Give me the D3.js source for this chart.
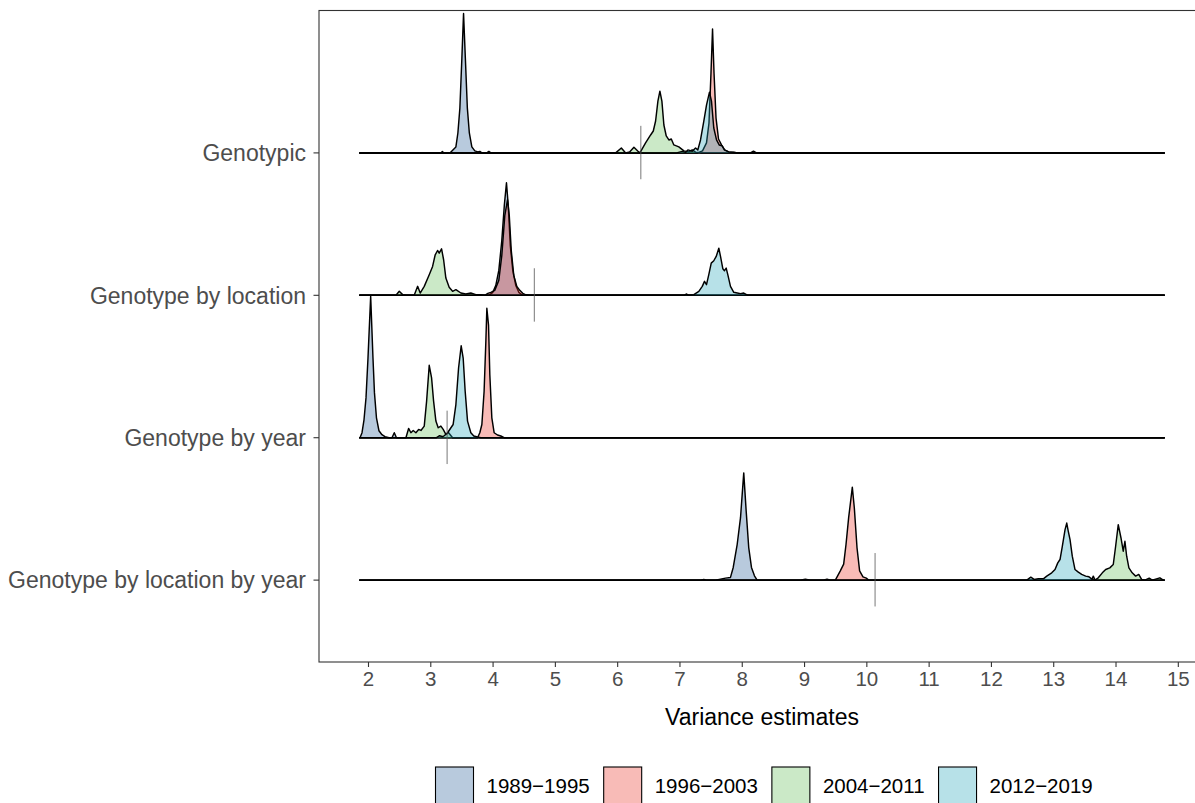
<!DOCTYPE html>
<html>
<head>
<meta charset="utf-8">
<script src="https://cdn.jsdelivr.net/npm/d3@7"></script>
<style>
  html, body { margin: 0; padding: 0; background: #ffffff; }
  svg { display: block; font-family: "Liberation Sans", Arial, Helvetica, sans-serif; }
</style>
</head>
<body>
<svg id="chart" width="1195" height="803"></svg>
<script>
// ---------------- DATA ----------------
// Rows (top to bottom)
const categories = ["Genotypic", "Genotype by location", "Genotype by year", "Genotype by location by year"];
// Periods (legend order / drawing order)
const periods = ["1989\u22121995", "1996\u22122003", "2004\u22122011", "2012\u22122019"];
const periodColors = ["#265f98", "#eb3123", "#62bd56", "#23a4b8"];
const xTicks = [2, 3, 4, 5, 6, 7, 8, 9, 10, 11, 12, 13, 14, 15];
// x range covered by every ridge (min / max of all estimates)
const densityRange = [1.86, 14.79];
// short vertical reference marks, one per row (same order as categories)
const markerValues = [6.38, 4.67, 3.27, 10.14];

// density curves: [variance estimate, relative density]
const genotypic_1989 = [[3.170,0],[3.194,0.015],[3.218,0],[3.315,0],[3.347,0.02],[3.411,0.06],[3.443,0.20],[3.475,0.45],[3.507,0.95],[3.534,1.40],[3.563,0.95],[3.595,0.45],[3.627,0.20],[3.667,0.06],[3.715,0.02],[3.763,0.01],[3.795,0.015],[3.828,0],[3.908,0],[3.940,0.015],[3.972,0]];
const genotypic_1996 = [[7.290,0],[7.370,0.02],[7.434,0.10],[7.474,0.30],[7.506,0.80],[7.531,1.245],[7.555,0.80],[7.587,0.35],[7.627,0.14],[7.675,0.08],[7.723,0.03],[7.787,0.01],[7.867,0.005],[7.947,0],[8.140,0],[8.188,0.018],[8.236,0]];
const genotypic_2004 = [[5.976,0],[6.067,0.05],[6.136,0],[6.200,0.01],[6.269,0.057],[6.330,0.02],[6.365,0],[6.456,0.10],[6.537,0.18],[6.580,0.22],[6.617,0.32],[6.654,0.52],[6.686,0.62],[6.718,0.52],[6.750,0.28],[6.788,0.17],[6.830,0.13],[6.869,0.14],[6.910,0.08],[6.990,0.06],[7.071,0.02],[7.151,0.01],[7.205,0.03],[7.258,0.007],[7.338,0]];
const genotypic_2012 = [[6.954,0],[7.045,0.015],[7.098,0.005],[7.135,0.03],[7.205,0.017],[7.258,0.05],[7.295,0.03],[7.338,0.13],[7.391,0.32],[7.434,0.48],[7.482,0.61],[7.514,0.52],[7.551,0.25],[7.595,0.13],[7.638,0.08],[7.686,0.07],[7.723,0.03],[7.792,0.01],[7.872,0.007],[7.931,0]];

const byLocation_1989 = [[3.940,0],[4.004,0.03],[4.052,0.10],[4.100,0.25],[4.148,0.55],[4.188,0.90],[4.223,1.13],[4.252,0.90],[4.284,0.50],[4.324,0.25],[4.372,0.10],[4.421,0.03],[4.485,0]];
const byLocation_1996 = [[3.876,0],[3.924,0.02],[3.972,0.03],[4.036,0.05],[4.100,0.15],[4.148,0.40],[4.196,0.80],[4.240,0.96],[4.268,0.80],[4.300,0.45],[4.340,0.20],[4.389,0.09],[4.437,0.05],[4.485,0.02],[4.533,0.005],[4.613,0]];
const byLocation_2004 = [[2.449,0],[2.502,0.04],[2.556,0.007],[2.609,0],[2.742,0],[2.797,0.09],[2.838,0.023],[2.903,0.09],[2.983,0.207],[3.037,0.29],[3.079,0.407],[3.117,0.45],[3.143,0.423],[3.181,0.467],[3.214,0.357],[3.250,0.173],[3.303,0.08],[3.358,0.04],[3.411,0.057],[3.491,0.023],[3.571,0.013],[3.651,0.023],[3.731,0.007],[3.811,0.007],[3.864,0]];
const byLocation_2012 = [[7.071,0],[7.109,0.013],[7.151,0],[7.231,0.007],[7.311,0.04],[7.366,0.09],[7.402,0.14],[7.434,0.107],[7.471,0.207],[7.510,0.323],[7.551,0.347],[7.590,0.39],[7.632,0.473],[7.659,0.39],[7.696,0.267],[7.723,0.247],[7.750,0.273],[7.776,0.207],[7.819,0.09],[7.872,0.03],[7.927,0.023],[7.980,0.017],[8.032,0.023],[8.076,0.007],[8.097,0]];

const byYear_1989 = [[1.872,0],[1.904,0.05],[1.936,0.18],[1.968,0.40],[2.000,0.80],[2.043,1.42],[2.080,0.80],[2.104,0.45],[2.136,0.20],[2.176,0.07],[2.224,0.03],[2.273,0.01],[2.337,0],[2.385,0],[2.422,0.05],[2.457,0]];
const byYear_1996 = [[3.759,0],[3.795,0.05],[3.828,0.133],[3.864,0.467],[3.892,0.967],[3.908,1.30],[3.935,1.13],[3.956,0.63],[3.988,0.20],[4.025,0.05],[4.079,0.027],[4.132,0.017],[4.185,0]];
const byYear_2004 = [[2.609,0],[2.652,0.093],[2.689,0.05],[2.726,0.073],[2.769,0.05],[2.813,0.083],[2.850,0.073],[2.903,0.117],[2.941,0.367],[2.983,0.727],[3.021,0.60],[3.053,0.367],[3.090,0.167],[3.127,0.10],[3.170,0.117],[3.207,0.083],[3.250,0.033],[3.294,0.05],[3.358,0]];
const byYear_2012 = [[3.100,0],[3.150,0.02],[3.200,0.01],[3.223,0.02],[3.278,0.05],[3.331,0.10],[3.367,0.133],[3.411,0.333],[3.454,0.70],[3.496,0.923],[3.528,0.80],[3.560,0.467],[3.598,0.167],[3.651,0.05],[3.699,0.017],[3.759,0.007],[3.811,0]];

const byLocYear_1989 = [[7.338,0],[7.391,0.007],[7.434,0],[7.579,0],[7.659,0.01],[7.739,0.02],[7.819,0.027],[7.863,0.127],[7.927,0.36],[7.980,0.627],[8.032,1.077],[8.071,0.693],[8.112,0.327],[8.156,0.127],[8.204,0.043],[8.247,0]];
const byLocYear_1996 = [[8.941,0],[9.021,0.01],[9.101,0],[9.310,0],[9.369,0.01],[9.422,0],[9.502,0],[9.539,0.043],[9.582,0.093],[9.636,0.16],[9.674,0.36],[9.716,0.627],[9.775,0.933],[9.807,0.727],[9.850,0.327],[9.892,0.093],[9.946,0.033],[9.999,0.02],[10.036,0]];
const byLocYear_2004 = [[13.618,0],[13.643,0.04],[13.671,0],[13.723,0.023],[13.788,0.073],[13.842,0.107],[13.908,0.123],[13.964,0.157],[14.002,0.34],[14.044,0.557],[14.088,0.423],[14.124,0.29],[14.151,0.39],[14.179,0.24],[14.215,0.123],[14.268,0.073],[14.323,0.04],[14.373,0.057],[14.419,0.007],[14.472,0],[14.541,0.02],[14.589,0],[14.712,0.023],[14.766,0]];
const byLocYear_2012 = [[12.576,0],[12.640,0.03],[12.693,0.007],[12.761,0.013],[12.842,0.013],[12.896,0.04],[12.976,0.073],[13.029,0.107],[13.073,0.173],[13.109,0.207],[13.146,0.34],[13.190,0.507],[13.217,0.573],[13.242,0.49],[13.270,0.407],[13.306,0.24],[13.349,0.107],[13.403,0.08],[13.457,0.057],[13.521,0.04],[13.574,0.033],[13.627,0.007],[13.671,0]];

// table built from the arrays: rows in category order, series in period order
const ridges = [
  [genotypic_1989, genotypic_1996, genotypic_2004, genotypic_2012],
  [byLocation_1989, byLocation_1996, byLocation_2004, byLocation_2012],
  [byYear_1989, byYear_1996, byYear_2004, byYear_2012],
  [byLocYear_1989, byLocYear_1996, byLocYear_2004, byLocYear_2012]
];

// ---------------- LAYOUT ----------------
const panel = { left: 319, top: 10.5, right: 1205, bottom: 662 };
const svg = d3.select("#chart");

const pad = (densityRange[1] - densityRange[0]) * 0.05;
const x = d3.scaleLinear()
  .domain([densityRange[0] - pad, densityRange[1] + pad])
  .range([panel.left, panel.right]);

// row position: bottom row = 1, top row = 4
const rowPos = d => categories.length - categories.indexOf(d);
const y = d3.scaleLinear().domain([0.425, 5.0]).range([panel.bottom, panel.top]);
// density -> height in row units
const hScale = d3.scaleLinear().domain([0, 1.43]).range([0, 1]);

const fillAlpha = 0.33;

// ---------------- RIDGES ----------------
const gRidges = svg.append("g");
categories.forEach((cat, ci) => {
  const base = rowPos(cat);
  ridges[ci].forEach((series, si) => {
    const pts = [[densityRange[0], 0], ...series, [densityRange[1], 0]];
    const area = d3.area()
      .x(d => x(d[0]))
      .y0(y(base))
      .y1(d => y(base + hScale(d[1])));
    const line = d3.line()
      .x(d => x(d[0]))
      .y(d => y(base + hScale(d[1])));
    gRidges.append("path")
      .attr("d", area(pts))
      .attr("fill", periodColors[si])
      .attr("fill-opacity", fillAlpha)
      .attr("stroke", "none");
    gRidges.append("path")
      .attr("d", line(pts))
      .attr("fill", "none")
      .attr("stroke", "#000")
      .attr("stroke-width", 1.45)
      .attr("stroke-linejoin", "round");
  });
});

// vertical reference marks
categories.forEach((cat, ci) => {
  const base = rowPos(cat);
  svg.append("line")
    .attr("x1", x(markerValues[ci])).attr("x2", x(markerValues[ci]))
    .attr("y1", y(base + 0.19)).attr("y2", y(base - 0.185))
    .attr("stroke", "#555").attr("stroke-width", 0.8);
});

// ---------------- PANEL BORDER ----------------
svg.append("rect")
  .attr("x", panel.left).attr("y", panel.top)
  .attr("width", panel.right - panel.left).attr("height", panel.bottom - panel.top)
  .attr("fill", "none").attr("stroke", "#333").attr("stroke-width", 1.1);

// ---------------- AXES ----------------
const xAxis = svg.append("g")
  .attr("transform", `translate(0,${panel.bottom})`)
  .call(d3.axisBottom(x).tickValues(xTicks).tickFormat(d3.format("d")).tickSize(5).tickPadding(4));
xAxis.select(".domain").remove();
xAxis.selectAll(".tick line").attr("stroke", "#333").attr("stroke-width", 1.1);
xAxis.selectAll(".tick text").attr("fill", "#4d4d4d").style("font-size", "20.5px")
  .style("font-family", '"Liberation Sans", Arial, sans-serif');

const yBand = d3.scaleOrdinal().domain(categories).range(categories.map(c => y(rowPos(c))));
const yAxis = svg.append("g").attr("transform", `translate(${panel.left},0)`);
categories.forEach(cat => {
  const yy = yBand(cat);
  yAxis.append("line").attr("x1", -5.5).attr("x2", 0).attr("y1", yy).attr("y2", yy)
    .attr("stroke", "#333").attr("stroke-width", 1.1);
  yAxis.append("text").attr("x", -13).attr("y", yy).attr("dy", "0.36em")
    .attr("text-anchor", "end").attr("fill", "#4d4d4d")
    .style("font-size", "23px").text(cat);
});

svg.append("text")
  .attr("x", 762).attr("y", 725)
  .attr("text-anchor", "middle").attr("fill", "#000")
  .style("font-size", "23px").text("Variance estimates");

// ---------------- LEGEND ----------------
const legend = svg.append("g");
let lx = 435.5;
const keyW = 38, keyH = 38, keyTop = 767;
periods.forEach((p, i) => {
  legend.append("rect").attr("x", lx).attr("y", keyTop).attr("width", keyW).attr("height", keyH)
    .attr("fill", "#fff").attr("stroke", "none");
  legend.append("rect").attr("x", lx).attr("y", keyTop).attr("width", keyW).attr("height", keyH)
    .attr("fill", periodColors[i]).attr("fill-opacity", fillAlpha)
    .attr("stroke", "#000").attr("stroke-width", 1.1);
  const t = legend.append("text").attr("x", lx + keyW + 13).attr("y", 786).attr("dy", "0.36em")
    .attr("fill", "#000").style("font-size", "20.5px").text(p);
  const tw = t.node().getComputedTextLength();
  lx = lx + keyW + 13 + tw + 14;
});
</script>
</body>
</html>
